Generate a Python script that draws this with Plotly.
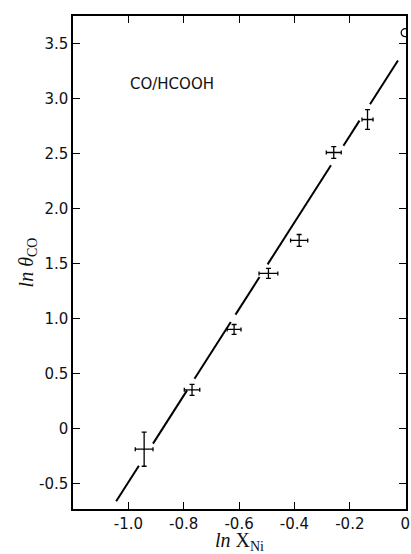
import plotly.graph_objects as go

# Data points (ln X_Ni, ln theta_CO) with error bars
x_vals = [-0.943, -0.770, -0.618, -0.494, -0.383, -0.258, -0.136]
y_vals = [-0.19, 0.35, 0.90, 1.41, 1.71, 2.51, 2.81]
x_err = [0.032, 0.028, 0.025, 0.034, 0.031, 0.027, 0.020]
y_err = [0.155, 0.050, 0.045, 0.045, 0.054, 0.053, 0.090]

# Open-circle point at the pure-Pt end
circle_x = [0.0]
circle_y = [3.60]

# Fitted straight line and the pieces in which it is drawn (gaps around crosses)
fit_slope = 3.94
fit_intercept = 3.45
fit_segments = [(-1.044, -0.962), (-0.911, -0.788), (-0.761, -0.630),
                (-0.613, -0.526), (-0.497, -0.268), (-0.223, -0.165),
                (-0.127, -0.026)]

# Axis ticks
x_ticks = [-1.0, -0.8, -0.6, -0.4, -0.2, 0.0]
x_ticktext = ["-1.0", "-0.8", "-0.6", "-0.4", "-0.2", "0"]
y_ticks = [-0.5, 0.0, 0.5, 1.0, 1.5, 2.0, 2.5, 3.0, 3.5]
y_ticktext = ["-0.5", "0", "0.5", "1.0", "1.5", "2.0", "2.5", "3.0", "3.5"]

label_text = "CO/HCOOH"

line_x, line_y = [], []
for a, b in fit_segments:
    line_x += [a, b, None]
    line_y += [fit_slope * a + fit_intercept, fit_slope * b + fit_intercept, None]

fig = go.Figure()
fig.add_trace(go.Scatter(x=line_x, y=line_y, mode="lines",
                         line=dict(color="black", width=2), hoverinfo="skip",
                         showlegend=False))
fig.add_trace(go.Scatter(
    x=x_vals, y=y_vals, mode="markers",
    marker=dict(size=1, color="black"),
    error_x=dict(type="data", array=x_err, visible=True, color="black",
                 thickness=1.3, width=2),
    error_y=dict(type="data", array=y_err, visible=True, color="black",
                 thickness=1.3, width=2.5),
    showlegend=False))
fig.add_trace(go.Scatter(x=circle_x, y=circle_y, mode="markers",
                         marker=dict(symbol="circle-open", size=8,
                                     color="black", line=dict(width=1.2)),
                         showlegend=False))

fig.add_annotation(x=-0.843, y=3.13, text=label_text, showarrow=False,
                   font=dict(family="DejaVu Sans", size=15, color="#111"))

axis_common = dict(
    showline=True, linecolor="black", linewidth=1.5, mirror="ticks",
    ticks="inside", ticklen=7, tickwidth=1, tickcolor="black",
    showgrid=False, zeroline=False, ticklabeloverflow="allow",
    tickfont=dict(family="DejaVu Sans", size=15, color="#111"),
)

fig.update_layout(
    width=411, height=554,
    margin=dict(l=73, r=1, t=16, b=40),
    paper_bgcolor="white", plot_bgcolor="white",
    xaxis=dict(range=[-1.2, 0.003], tickvals=x_ticks, ticktext=x_ticktext,
               title=dict(text="<i>ln</i> X<sub>Ni</sub>", standoff=6,
                          font=dict(family="Liberation Serif", size=20,
                                    color="#111")),
               **axis_common),
    yaxis=dict(range=[-0.734, 3.752], tickvals=y_ticks, ticktext=y_ticktext,
               title=dict(text="<i>ln θ</i><sub>CO</sub>", standoff=0,
                          font=dict(family="Liberation Serif", size=20,
                                    color="#111")),
               **axis_common),
)

fig.write_html("out.html", config={"displayModeBar": False},
               post_script="document.body.style.margin='0';")
